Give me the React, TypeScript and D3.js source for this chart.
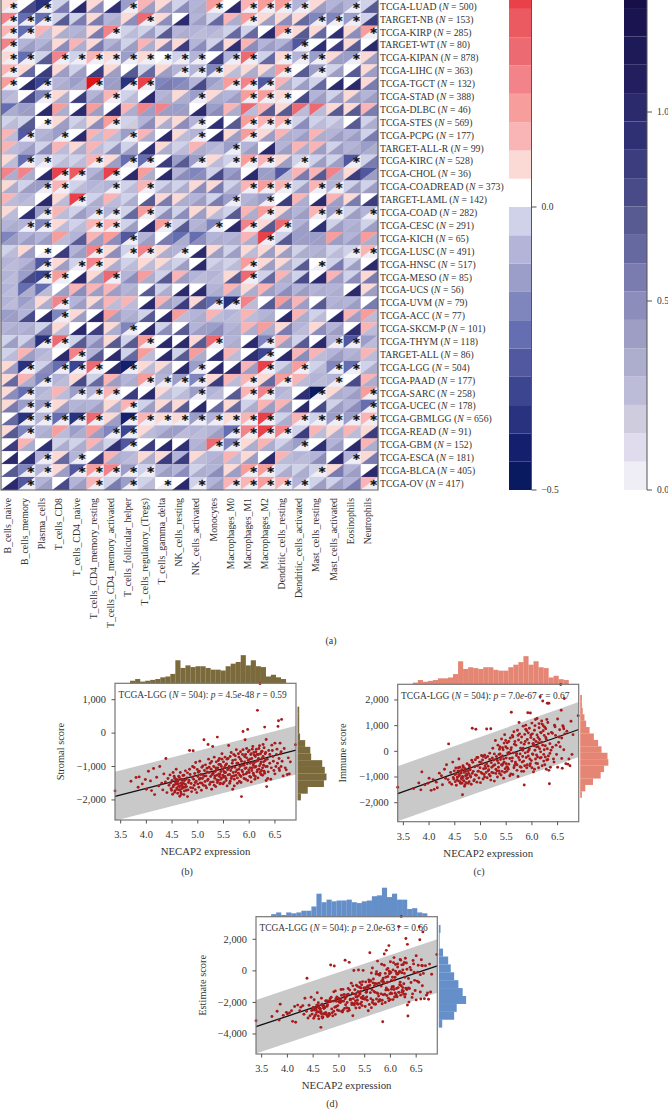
import * as d3 from 'd3';

const FONT = '"Liberation Serif", serif';
const INK = '#333';

const cancers = ['TCGA-LUAD','TARGET-NB','TCGA-KIRP','TARGET-WT','TCGA-KIPAN','TCGA-LIHC','TCGA-TGCT','TCGA-STAD','TCGA-DLBC','TCGA-STES','TCGA-PCPG','TARGET-ALL-R','TCGA-KIRC','TCGA-CHOL','TCGA-COADREAD','TARGET-LAML','TCGA-COAD','TCGA-CESC','TCGA-KICH','TCGA-LUSC','TCGA-HNSC','TCGA-MESO','TCGA-UCS','TCGA-UVM','TCGA-ACC','TCGA-SKCM-P','TCGA-THYM','TARGET-ALL','TCGA-LGG','TCGA-PAAD','TCGA-SARC','TCGA-UCEC','TCGA-GBMLGG','TCGA-READ','TCGA-GBM','TCGA-ESCA','TCGA-BLCA','TCGA-OV'];
const sampleSizes = [500,153,285,80,878,363,132,388,46,569,177,99,528,36,373,142,282,291,65,491,517,85,56,79,77,101,118,86,504,177,258,178,656,91,152,181,405,417];
const immuneCells = ['B_cells_naive','B_cells_memory','Plasma_cells','T_cells_CD8','T_cells_CD4_naive','T_cells_CD4_memory_resting','T_cells_CD4_memory_activated','T_cells_follicular_helper','T_cells_regulatory_(Tregs)','T_cells_gamma_delta','NK_cells_resting','NK_cells_activated','Monocytes','Macrophages_M0','Macrophages_M1','Macrophages_M2','Dendritic_cells_resting','Dendritic_cells_activated','Mast_cells_resting','Mast_cells_activated','Eosinophils','Neutrophils'];

// correlation x100, one row per cancer
const corrRows = [
  [7,2,-37,-2,2,7,2,-12,12,7,-2,-7,17,2,12,17,17,-7,7,-7,-7,-2],
  [22,-22,-22,-2,-2,7,-7,7,27,7,2,-7,-2,12,17,7,7,7,-17,-17,-12,-2],
  [12,-22,12,7,-7,7,22,-2,-2,-2,-7,-7,-7,-2,-2,2,17,7,7,2,7,17],
  [22,-7,-7,7,12,7,-7,-2,12,7,7,-7,-2,7,12,-7,-7,-27,2,2,7,2],
  [7,-22,-2,22,-2,12,7,-12,7,2,-2,-7,2,-7,27,-2,7,-7,-12,7,-12,7],
  [12,7,2,7,-2,2,7,2,-2,7,-7,-7,-17,7,7,7,17,2,-12,-2,2,7],
  [17,2,-32,-7,-12,42,-12,-37,37,-17,-17,-7,-12,17,22,-27,12,-2,-2,2,2,7],
  [-7,2,-17,7,2,-7,12,-2,2,-7,7,-12,7,-7,17,17,7,2,-7,-2,7,-7],
  [-22,-12,2,17,2,17,2,12,22,22,-12,2,-12,12,27,12,7,27,27,7,7,12],
  [-2,-2,2,7,-2,7,17,-2,-7,7,7,-7,2,2,17,12,12,-2,-2,-2,2,-2],
  [12,-27,-7,-12,2,12,12,-12,12,2,7,-7,2,7,17,7,12,-7,12,-7,-7,-2],
  [12,-7,-2,12,7,12,-2,-2,2,7,-2,12,-7,-12,-7,2,-7,12,12,-2,-7,-12],
  [7,-22,-2,-2,-2,12,7,-22,-22,2,-12,-12,7,-2,17,12,7,-2,-2,-2,-27,-2],
  [22,22,2,37,32,-7,37,2,17,2,-7,-17,-2,-12,2,-12,-27,12,12,22,7,-27],
  [7,-2,-12,12,-2,-7,-7,-2,12,-2,-2,7,7,-2,12,17,12,-2,12,-7,-2,-2],
  [12,-7,2,7,37,-2,12,-2,2,7,7,-7,-2,-12,-7,-12,2,12,2,12,7,2],
  [7,2,-12,12,-2,-7,-7,-2,17,-2,-2,7,7,-2,12,17,7,-7,12,-12,-2,-7],
  [-7,-7,-17,7,-2,12,12,-2,2,17,-2,-7,-17,2,22,7,27,-7,2,-2,-7,-2],
  [-17,-7,-7,17,-7,12,17,-27,-7,2,-22,-22,-7,-7,12,37,-2,-12,-12,17,-7,17],
  [-2,7,2,2,-7,22,7,-2,22,7,-7,2,7,-2,7,7,7,-2,-7,-2,-2,12],
  [-7,-7,-27,7,-2,22,7,-2,7,7,-2,2,-2,-2,17,7,7,-2,2,-2,-2,2],
  [-7,-12,-32,17,2,7,27,-7,17,-2,12,-7,-7,7,27,-2,12,-2,2,12,-2,7],
  [-7,-22,-22,2,12,12,12,-7,2,-2,2,2,-7,12,7,12,-7,-7,-7,-7,2,7],
  [-7,-12,7,22,-7,7,12,12,2,12,-7,7,-22,-37,22,2,17,12,2,-7,-7,2],
  [-12,-7,2,-17,7,2,17,-7,-2,2,17,-7,12,-7,12,-7,2,12,-2,2,12,17],
  [-7,-7,-2,7,2,2,7,-17,2,-2,2,-7,-12,-7,12,17,7,-7,7,-7,2,12],
  [-2,-2,-37,27,-2,-7,7,-2,17,2,2,7,27,-7,2,-17,12,-2,2,-7,-27,-12],
  [-2,12,-7,2,22,-7,2,-2,17,2,-2,17,2,12,2,-32,2,12,12,-7,-7,12],
  [7,-37,-2,-22,-32,27,2,-42,7,7,2,-12,2,2,12,37,-2,17,-2,-17,-22,-2],
  [7,12,-17,-7,7,-2,12,-7,17,-7,-12,-17,7,12,12,7,17,12,-7,-7,2,12],
  [7,-22,-7,12,-12,-7,12,2,2,7,-2,-12,-7,2,12,22,-7,2,-47,7,-7,17],
  [7,-12,-12,7,-7,-7,7,12,-2,7,7,2,2,7,-2,12,12,2,2,-2,-7,-22],
  [2,-37,-7,-22,-37,27,7,-42,12,7,7,-12,-7,7,12,37,-2,12,-2,-12,-12,12],
  [7,-17,-7,17,-12,17,-17,-32,7,-7,-12,-7,-7,-22,22,37,22,-2,12,7,12,7],
  [2,12,2,-2,-2,12,-2,-27,2,2,2,-7,27,-17,7,12,-2,-12,2,-7,2,12],
  [2,2,-7,7,-7,2,12,-7,7,7,-7,7,-7,12,7,2,12,-7,-7,2,-7,7],
  [2,-17,-7,7,-27,17,22,-12,-2,-7,-7,-2,-7,7,17,17,-2,-2,-2,7,-7,2],
  [2,-27,-7,2,-7,12,-2,-12,-2,2,2,-2,-7,12,12,17,12,-7,-2,-2,-7,12],
];

// p value x100, same shape. Stars mark the ones under 5
const pRows = [
  [4,79,4,56,101,49,94,4,41,41,49,34,4,101,4,4,4,4,41,41,4,71],
  [4,4,4,71,56,56,34,49,4,49,101,41,64,34,4,41,49,64,4,4,4,86],
  [4,4,26,34,34,56,4,26,41,71,34,26,26,64,64,101,4,71,64,94,49,4],
  [4,41,41,49,34,56,41,41,34,56,86,49,64,94,49,41,49,4,94,86,71,101],
  [4,4,71,4,4,4,4,4,4,4,4,4,86,4,4,64,4,4,4,41,4,41],
  [4,64,86,41,41,86,41,71,64,41,4,4,4,26,34,34,4,71,4,41,71,41],
  [4,101,4,34,34,4,41,4,4,56,49,79,34,4,4,4,34,41,64,101,101,56],
  [26,79,4,34,86,41,4,26,101,34,34,4,34,41,4,4,4,79,41,41,41,41],
  [34,41,101,34,101,41,101,34,41,41,41,101,49,34,26,71,71,26,26,71,71,56],
  [26,71,4,41,26,49,4,19,49,34,49,4,94,71,4,4,4,49,26,26,71,34],
  [26,4,34,4,101,26,26,4,34,101,26,4,101,41,4,41,34,41,34,41,41,56],
  [26,41,49,26,34,26,49,41,94,34,26,34,26,4,41,101,41,34,41,41,34,34],
  [26,4,4,26,26,4,41,4,4,86,71,4,26,4,4,4,41,4,41,41,4,56],
  [34,34,101,4,4,41,4,101,34,101,49,49,79,49,101,41,26,56,71,34,86,41],
  [34,41,4,4,26,26,4,26,4,34,34,49,56,34,4,4,4,41,4,4,41,41],
  [26,26,101,26,4,34,26,34,71,56,34,41,56,4,34,4,86,34,101,41,56,86],
  [26,94,4,26,41,4,4,64,4,49,49,41,26,71,34,4,41,41,4,4,41,4],
  [34,4,4,26,26,4,4,41,101,4,71,34,4,101,4,71,4,41,94,41,34,41],
  [41,41,41,26,71,41,49,4,41,56,34,49,34,34,34,4,71,41,41,41,41,34],
  [26,41,4,86,41,4,49,4,4,34,4,101,41,41,26,41,41,34,34,26,4,4],
  [26,41,4,41,4,4,34,26,26,26,41,101,26,26,4,41,34,71,4,56,41,101],
  [26,79,4,4,101,41,4,49,34,71,41,26,26,71,4,64,34,79,101,41,49,56],
  [26,34,26,41,49,41,41,34,71,34,101,101,34,34,34,41,49,41,34,34,101,41],
  [26,34,34,4,41,41,26,26,101,41,86,71,4,4,26,71,49,41,71,34,41,56],
  [41,79,101,4,41,101,41,34,71,101,26,34,26,26,26,34,101,34,26,101,41,26],
  [34,34,56,26,101,86,34,4,101,49,71,41,49,34,34,34,56,26,49,41,94,26],
  [41,41,4,4,71,49,71,71,4,101,101,71,4,34,101,4,41,71,101,4,4,26],
  [26,41,26,101,4,71,101,64,26,101,71,34,94,26,94,4,101,49,26,41,34,26],
  [41,4,49,4,4,4,101,4,26,34,101,4,101,101,41,4,34,4,26,4,4,34],
  [64,34,4,26,79,64,41,34,4,4,4,4,86,26,4,64,4,26,26,4,79,34],
  [49,4,26,26,4,4,4,86,101,26,26,4,26,71,4,4,26,94,4,34,41,4],
  [56,4,4,41,34,41,34,4,41,56,71,101,64,64,34,41,41,101,79,41,49,4],
  [64,4,4,4,4,4,41,4,4,4,4,4,4,4,4,4,34,4,4,4,4,4],
  [71,4,34,26,34,41,4,4,26,41,26,26,41,4,4,4,4,86,26,34,26,86],
  [86,34,94,34,34,34,94,4,86,101,94,34,4,4,34,34,34,4,94,41,101,34],
  [101,94,4,64,4,86,34,26,34,86,86,26,34,26,41,101,26,26,49,101,4,56],
  [71,4,4,41,4,4,4,4,4,41,49,34,49,41,4,4,34,34,4,56,41,101],
  [101,4,41,79,41,4,56,4,26,4,101,4,41,4,4,4,4,4,41,41,56,4],
];

// colour bar bins, low to high
const corrBinEdges = [-0.45,-0.4,-0.35,-0.3,-0.25,-0.2,-0.15,-0.1,-0.05,0,0.05,0.1,0.15,0.2,0.25,0.3,0.35,0.4];
const corrColors = ['#091a60','#14206d','#28327f','#3c458f','#51589f','#656eb0','#7f85bd','#9c9eca','#b3b4d8','#cfd2e8','#ffffff','#fbd9d5','#f9b5b6','#f79d9c','#f2838a','#ec6a72','#eb5961','#e9404a','#e21416'];
const pBinEdges = [0.075,0.15,0.225,0.3,0.375,0.45,0.525,0.6,0.675,0.75,0.825,0.9,0.975,1.05,1.125,1.2,1.275];
const pColors = ['#efedf6','#e0dbed','#cfccdd','#bcbcd8','#adadce','#9e9ec4','#8c8dbb','#7a7baf','#6569a0','#585a92','#484b88','#3b3d7e','#2f3073','#2a2a6c','#231f5f','#1e1a58','#1a1450','#170f48'];

// scatter points, same samples in all three
const necap2 = [
  3.39,3.70,3.80,3.84,3.86,3.92,3.98,4.00,4.04,4.08,
  4.10,4.14,4.16,4.20,4.24,4.26,4.30,4.32,4.34,4.37,
  4.38,4.40,4.42,4.44,4.46,4.48,4.50,4.51,4.52,4.53,
  4.55,4.56,4.57,4.58,4.59,4.60,4.61,4.62,4.63,4.64,
  4.65,4.65,4.66,4.67,4.68,4.69,4.70,4.71,4.72,4.73,
  4.74,4.75,4.76,4.78,4.79,4.80,4.82,4.84,4.85,4.86,
  4.88,4.90,4.91,4.92,4.93,4.94,4.95,4.96,4.97,4.98,
  4.99,5.00,5.01,5.02,5.03,5.04,5.05,5.06,5.07,5.08,
  5.09,5.10,5.11,5.12,5.13,5.14,5.15,5.16,5.17,5.18,
  5.19,5.20,5.21,5.22,5.23,5.24,5.25,5.26,5.27,5.28,
  5.29,5.30,5.31,5.32,5.33,5.34,5.35,5.36,5.37,5.38,
  5.39,5.40,5.41,5.42,5.43,5.44,5.45,5.46,5.47,5.48,
  5.49,5.50,5.51,5.52,5.53,5.54,5.55,5.56,5.57,5.58,
  5.59,5.60,5.61,5.62,5.63,5.64,5.65,5.66,5.67,5.68,
  5.69,5.70,5.71,5.72,5.73,5.74,5.75,5.76,5.77,5.78,
  5.79,5.80,5.81,5.82,5.83,5.84,5.85,5.85,5.86,5.87,
  5.88,5.89,5.90,5.91,5.92,5.93,5.94,5.95,5.96,5.97,
  5.98,5.99,6.00,6.01,6.02,6.03,6.04,6.05,6.06,6.07,
  6.08,6.09,6.10,6.11,6.12,6.13,6.14,6.15,6.16,6.17,
  6.18,6.19,6.20,6.21,6.22,6.23,6.24,6.25,6.26,6.27,
  6.28,6.29,6.30,6.31,6.32,6.33,6.34,6.35,6.36,6.38,
  6.40,6.42,6.44,6.46,6.48,6.50,6.52,6.54,6.56,6.57,
  6.58,6.59,6.60,6.61,6.62,6.63,6.64,6.66,6.68,6.70,
  6.72,6.74,6.76,6.78,6.80,6.90,
  4.47,4.49,4.52,4.54,4.55,4.57,4.58,4.60,4.61,4.63,
  4.64,4.66,4.67,4.68,4.70,4.71,4.73,4.74,4.76,4.77,
  4.78,4.80,4.81,4.83,4.84,4.87,4.89,4.90,4.93,4.95,
  5.00,5.03,5.05,5.08,5.10,5.12,5.15,5.18,5.20,5.22,
  5.25,5.27,5.30,5.32,5.35,5.37,5.40,5.42,5.44,5.46,
  5.50,5.52,5.54,5.55,5.57,5.59,5.60,5.62,5.63,5.65,
  5.66,5.68,5.70,5.71,5.73,5.74,5.76,5.77,5.79,5.80,
  5.82,5.83,5.84,5.86,5.87,5.88,5.90,5.91,5.92,5.93,
  5.94,5.95,5.96,5.97,5.98,6.00,6.01,6.02,6.03,6.04,
  6.05,6.06,6.07,6.08,6.09,6.10,6.11,6.12,6.13,6.14,
  6.15,6.16,6.17,6.18,6.19,6.20,6.21,6.22,6.23,6.24,
  6.25,6.26,6.27,6.28,6.29,6.30,6.31,6.32,6.33,6.35,
  6.37,6.40,6.43,6.45,6.47,6.50,6.53,6.55,6.58,6.62,
  5.33,5.36,5.38,5.41,5.43,5.45,5.47,5.49,5.51,5.53,
];
const stromal = [
  -1730,-1440,-1330,-1620,-1310,-1520,-1390,-1680,-1140,-1430,
  -1720,-1060,-1840,-1320,-1580,-1000,-1500,-1700,-1220,-1460,
  -760,-1780,-1360,-1560,-1250,-1660,-1420,-1830,-1180,-1560,
  -1350,-1720,-1480,-1080,-1640,-1400,-1800,-1520,-1290,-1700,
  -1890,-1600,-1180,-1760,-1380,-1560,-1650,-1270,-1500,-1840,
  -1420,-1620,-1130,-1710,-1340,-1900,-1480,-520,-1240,-1630,
  -1750,-1000,-530,-1380,-1560,-1210,-1690,-880,-1440,-1780,
  -1090,-1300,-1170,-1620,-1380,-840,-1490,-1240,-1710,-1020,
  -1360,-1240,-1560,-200,-1120,-1450,-950,-1280,-1640,-1050,
  -1420,-340,-780,-1180,-1540,-900,-1300,-1080,-1680,-1240,
  -400,-1460,-1000,-720,-1350,-1150,-1600,-860,-1260,-120,
  -1040,-1420,-1220,-760,-1520,-940,-1150,-1340,-620,-1080,
  -1260,-860,-1480,-1030,-720,-1180,-1360,-920,-1580,-1100,
  -760,-370,-1000,-1240,-1440,-1120,-580,-1300,-900,-1680,
  -1180,-640,-1380,-1020,-800,-1260,-500,-1100,-1500,-900,
  -1200,-720,-1440,-1000,-560,-1300,-1900,-840,-1120,-640,
  50,-1240,-960,-700,-200,-1380,-1040,-460,-1180,110,
  -820,-1100,-520,-1300,-900,-640,-1460,-760,-1040,-400,
  -1200,-580,-880,-1380,-700,-1000,-480,-1160,680,-820,
  -640,-1080,-380,1480,-920,-1240,-560,-760,-1040,-340,
  -860,-1140,180,-620,-1000,-190,-1600,-780,-1360,-520,
  -900,-1380,-360,-700,-1120,-300,-1000,-480,200,370,
  -760,-1120,-300,-620,-1000,410,-840,-1280,-460,-1040,
  -1100,-1240,-740,-1220,-860,-350,
  -1490,-1710,-1610,-1290,-1770,-1530,-1380,-1680,-1450,-1590,
  -1330,-1690,-1500,-1830,-1420,-1610,-1260,-1730,-1540,-1380,
  -1600,-1190,-1700,-1420,-1080,-1510,-1320,-1640,-1030,-1480,
  -1520,-1140,-1350,-1500,-980,-1290,-1580,-1160,-1380,-1020,
  -1470,-850,-1200,-1560,-1040,-1400,-820,-1300,-1500,-1000,
  -1320,-1180,-960,-1420,-780,-1250,-1050,-1500,-700,-1360,
  -1040,-820,-1280,-1580,-680,-1160,-900,-1340,-620,-1080,
  -1260,-780,-1480,-960,-1160,-500,-1360,-860,-1060,-640,
  -1220,-740,-920,-1420,-560,-1180,-780,-1040,-1320,-620,
  -1120,-480,-880,-960,-1260,-660,-1020,-1300,-560,-840,
  -640,-1100,-1340,-760,-460,-980,-1180,-620,-860,-1120,
  -540,-1260,-700,-960,-440,-1200,-820,-580,-1420,-1000,
  -1160,-640,-1040,-520,-840,-1220,-640,-900,-1060,-560,
  -1280,-1100,-1480,-940,-1230,-1380,-780,-1520,-1150,-1300,
];
const immune = [
  -1400,-1450,-1230,-1500,-800,-1300,-1240,-1050,-1520,-1100,
  -1480,-1200,-1420,-850,-950,-1300,-700,-1050,-520,-1100,
  290,-1210,-820,-1280,-420,-1080,-900,-1180,-650,-1320,
  -1020,-760,-1150,-300,-950,-620,-1240,-850,-1080,-720,
  -1690,-980,-560,-1140,-820,-1360,-680,-950,-1220,-880,
  -480,-1040,-760,-1180,-620,-950,-1280,900,-430,-780,
  -1100,-330,860,-930,-1200,-560,-240,-770,-1040,-420,
  -640,-1220,-820,-160,-480,-340,-1080,-680,-900,-150,
  -560,-250,-820,870,-1030,-200,-580,-720,-900,-70,
  -960,880,-440,-620,-260,120,-840,-340,-1160,-520,
  420,-700,-200,-760,-1000,240,-450,-120,-860,170,
  -320,-920,480,-540,-180,60,-1050,-420,650,-680,
  180,-260,-780,330,-640,-100,-500,-40,-950,520,
  60,1520,-380,620,-900,-60,760,-560,380,-420,
  240,-160,-740,820,-980,440,1120,-340,-100,120,
  -620,560,-420,40,980,-780,-1310,280,660,-60,
  1020,-240,800,-520,1500,-180,320,100,-560,1490,
  640,-360,1100,-100,300,-800,460,820,40,1240,
  -460,180,1280,-220,540,-640,920,100,2130,740,
  -240,360,1060,1960,800,-120,620,-520,220,880,
  460,-340,1870,1120,-180,1870,-1260,300,-620,740,
  160,-300,1020,620,-120,1260,350,840,2600,1600,
  520,-660,1000,960,60,2060,680,-480,780,-500,
  -300,-560,1170,-120,650,1390,
  -1020,-760,-880,-1120,-1000,-640,-900,-1180,-760,-1040,
  -1240,-1020,-620,-1160,-1300,-780,-1060,-920,-1240,-860,
  -540,-720,-1000,-350,-860,-1150,-600,-920,-240,-780,
  -420,-860,-200,-1000,-660,-480,-760,-320,-1120,-820,
  -560,-100,-860,-340,-620,80,-220,-780,-480,320,
  -480,120,-700,380,-280,-880,140,-260,560,-640,
  280,-480,-80,-520,620,-240,680,-600,340,-780,
  -200,120,-380,-560,380,860,-640,460,-20,720,
  40,900,-300,-480,540,-640,680,-120,300,220,
  -700,1000,-300,380,-140,640,-480,180,340,1080,
  460,-260,-20,720,1180,-560,240,1000,-380,60,
  940,-220,540,-700,1240,100,-320,680,-740,-80,
  40,700,-420,960,240,-620,560,180,-280,880,
  -360,-760,-100,-520,140,-300,-820,420,-600,-60,
];
const estimate = [
  -3160,-2890,-2560,-3120,-2110,-2820,-2630,-2730,-2660,-2530,
  -3200,-2260,-3260,-2170,-2530,-2300,-2200,-2750,-1740,-2560,
  -470,-2990,-2180,-2840,-1670,-2740,-2320,-3010,-1830,-2880,
  -2370,-2480,-2630,-1380,-2590,-2020,-3040,-2370,-2370,-2420,
  -3580,-2580,-1740,-2900,-2200,-2920,-2330,-2220,-2720,-2720,
  -1900,-2660,-1890,-2890,-1960,-2850,-2760,370,-1670,-2410,
  -2850,-1330,310,-2310,-2760,-1770,-1930,-1650,-2480,-2200,
  -1730,-2520,-1990,-1780,-1860,-1180,-2570,-1920,-2610,-1170,
  -1920,-1490,-2380,670,-2150,-1650,-1530,-2000,-2540,-1120,
  -2380,540,-1220,-1800,-1800,-780,-2140,-1420,-2840,-1760,
  20,-2160,-1200,-1480,-2350,-910,-2050,-980,-2120,50,
  -1360,-2340,-740,-1300,-1700,-880,-2200,-1760,30,-1760,
  -1080,-1120,-2260,-700,-1360,-1280,-1860,-960,-2530,-580,
  -700,1150,-1380,-620,-2340,-1180,180,-1860,-520,-2100,
  -940,-800,-2120,-200,-1780,-820,620,-1440,-1600,-780,
  -1820,-160,-1860,-960,420,-2080,-3220,-560,-460,-700,
  1070,-1480,-160,-1220,1300,-1560,-720,-360,-1740,1600,
  -180,-1460,580,-1400,-600,-1440,-1000,60,-1000,840,
  -1660,-400,400,-1600,-160,-1640,440,-1060,2810,-80,
  -880,-720,680,3440,-120,-1360,60,-1280,-820,540,
  -400,-1480,2050,500,-1180,1680,-2860,-480,-1980,220,
  -740,-1680,660,-80,-1240,960,-650,360,2800,1970,
  -240,-1780,700,340,-940,2470,-160,-1760,320,-1540,
  -1400,-1800,430,-1340,-210,1040,
  -2510,-2470,-2490,-2410,-2770,-2170,-2280,-2860,-2210,-2630,
  -2570,-2710,-2120,-2990,-2720,-2390,-2320,-2650,-2780,-2240,
  -2140,-1910,-2700,-1770,-1940,-2660,-1920,-2560,-1270,-2260,
  -1940,-2000,-1550,-2500,-1640,-1770,-2340,-1480,-2500,-1840,
  -2030,-950,-2060,-1900,-1660,-1320,-1040,-2080,-1980,-680,
  -1800,-1060,-1660,-1040,-1060,-2130,-910,-1760,-140,-2000,
  -760,-1300,-1360,-2100,-60,-1400,-220,-1940,-280,-1860,
  -1460,-660,-1860,-1520,-780,360,-2000,-400,-1080,80,
  -1180,160,-1220,-1900,-20,-1820,-100,-1160,-1020,-400,
  -1820,520,-1180,-580,-1400,-20,-1500,-1120,-220,240,
  -180,-1360,-1360,-40,720,-1540,-940,380,-1240,-1060,
  400,-1480,-160,-1660,800,-1100,-1140,100,-2160,-1080,
  -1120,60,-1460,440,-600,-1840,-80,-720,-1340,320,
  -1640,-1860,-1580,-1460,-1090,-1680,-1600,-1100,-1750,-1360,
];

const histXStart = 3.39;
const histXStep = 0.0978;
const stromalHistTop = [0,0,0,3,5,2,3,4,5,7,8,11,27,18,21,19,20,20,18,16,16,15,20,23,25,33,21,27,20,19,8,10,7,5,0,0];
const immuneHistTop = [0,0,0,2,5,3,4,5,7,7,8,12,27,18,20,19,18,20,20,17,16,16,20,23,26,33,23,27,20,19,8,10,6,5,0,0];
const estimateHistTop = [0,0,0,3,5,2,5,4,5,7,7,12,27,17,20,18,19,19,20,17,16,18,19,24,25,34,23,27,20,20,9,10,5,4,0,0];
const stromalHistSide = [2,2,2,2,3,9,15,16,29,32,34,31,12,4];
const immuneHistSide = [2,2,3,5,7,11,16,21,25,32,33,28,24,15,6,2];
const estimateHistSide = [2,1,1,5,11,14,18,23,28,32,21,18,4];

const xTicks = [3.5,4,4.5,5,5.5,6,6.5];
const stromalTicks = [1000,0,-1000,-2000];
const immuneTicks = [2000,1000,0,-1000,-2000];
const estimateTicks = [2000,0,-2000,-4000];

const HEAT = { left: 1, right: 378, top: 0, bottom: 490 };

function Heatmap() {
  const x = d3.scaleBand<number>().domain(d3.range(immuneCells.length)).range([HEAT.left, HEAT.right]);
  const y = d3.scaleBand<number>().domain(d3.range(cancers.length)).range([HEAT.top, HEAT.bottom]);
  const corrColor = d3.scaleThreshold<number, string>().domain(corrBinEdges).range(corrColors);
  const pColor = d3.scaleThreshold<number, string>().domain(pBinEdges).range(pColors);
  const w = x.bandwidth();
  const h = y.bandwidth();

  return (
    <g>
      {cancers.map((_, r) =>
        immuneCells.map((_, c) => {
          const x0 = x(c)!;
          const y0 = y(r)!;
          const corr = corrRows[r][c] / 100;
          const p = pRows[r][c] / 100;
          return (
            <g key={`${r}-${c}`}>
              <path d={`M${x0},${y0}L${x0 + w},${y0}L${x0},${y0 + h}Z`} fill={corrColor(corr)} stroke={corrColor(corr)} strokeWidth={0.2} />
              <path d={`M${x0 + w},${y0}L${x0 + w},${y0 + h}L${x0},${y0 + h}Z`} fill={pColor(p)} stroke={pColor(p)} strokeWidth={0.2} />
              {p < 0.05 && (
                <text x={x0 + w * 0.74} y={y0 + h * 0.5 + 5.2} textAnchor="middle" fontFamily="DejaVu Sans" fontWeight="bold" fontSize={13} fill="#111" stroke="#111" strokeWidth={0.35}>*</text>
              )}
            </g>
          );
        })
      )}
      <path d={`M${HEAT.left},${HEAT.top}V${HEAT.bottom}H${HEAT.right}V${HEAT.top}`} fill="none" stroke="#666" strokeWidth={1.2} />
      {cancers.map((name, r) => (
        <text key={name} x={380} y={y(r)! + h / 2 + 3.3} fontFamily={FONT} fontSize={9.7} fill={INK}>
          {name} (<tspan fontStyle="italic">N</tspan> = {sampleSizes[r]})
        </text>
      ))}
      {immuneCells.map((name, c) => (
        <text key={name} transform={`translate(${x(c)! + w / 2 + 1.4},498) rotate(-90)`} textAnchor="end" fontFamily={FONT} fontSize={9.8} fill={INK}>
          {name}
        </text>
      ))}
    </g>
  );
}

function ColorBar({ x0, x1, domain, yRange, edges, colors, ticks }: any) {
  const y = d3.scaleLinear().domain(domain).range(yRange);
  const stops = [domain[0], ...edges];
  return (
    <g>
      {colors.map((color: string, i: number) => {
        const lo = stops[i];
        const hi = stops[i + 1] ?? lo + (edges[1] - edges[0]);
        return <rect key={i} x={x0} width={x1 - x0} y={y(hi)} height={y(lo) - y(hi)} fill={color} />;
      })}
      <line x1={x1} x2={x1} y1={0} y2={yRange[0]} stroke="#555" strokeWidth={1} />
      {ticks.map((t: number) => (
        <g key={t}>
          <line x1={x1} x2={x1 + 5} y1={y(t)} y2={y(t)} stroke="#555" />
          <text x={x1 + 10} y={y(t) + 3.2} fontFamily={FONT} fontSize={9.5} fill={INK}>{d3.format('.1f')(t)}</text>
        </g>
      ))}
    </g>
  );
}

function JointPanel({ box, yDomain, yTicks, ys, line, band, label, annotation, color, histTop, histSide, sideStart, sideStep, yLabelGap }: any) {
  const { left, right, top, bottom } = box;
  const x = d3.scaleLinear().domain([3.39, 6.91]).range([left, right]);
  const y = d3.scaleLinear().domain(yDomain).range([bottom, top]);
  const count = d3.scaleLinear().domain([0, 34]).range([0, 29]);

  const bandPath = `M${x(3.39)},${y(line[0] - band)}` +
    `L${x(3.39)},${y(line[0] + band)}L${x(6.91)},${y(line[1] + band)}L${x(6.91)},${y(line[1] - band)}Z`;
  const clipId = `clip-${label.split(' ')[0]}`;

  return (
    <g>
      <defs>
        <clipPath id={clipId}><rect x={left} y={top} width={right - left} height={bottom - top} /></clipPath>
      </defs>
      {histTop.map((n: number, i: number) => (
        <rect key={i} x={x(histXStart + i * histXStep)} width={x(histXStep) - x(0) + 0.1} y={top - count(n)} height={count(n)} fill={color} />
      ))}
      {histSide.map((n: number, i: number) => {
        const y0 = y(sideStart - i * sideStep);
        const y1 = y(sideStart - (i + 1) * sideStep);
        return <rect key={i} x={right + 1.5} width={count(n)} y={y0} height={y1 - y0 + 0.1} fill={color} />;
      })}
      <path d={bandPath} fill="#c9c9c9" clipPath={`url(#${clipId})`} />
      <text x={left + 3.4} y={top + 14.4} fontFamily={FONT} fontSize={9.45} fill={INK}>
        TCGA-LGG (<tspan fontStyle="italic">N</tspan> = 504): <tspan fontStyle="italic">p</tspan> = {annotation[0]}<tspan fontStyle="italic">e</tspan>{annotation[1]} <tspan fontStyle="italic">r</tspan> = {annotation[2]}
      </text>
      <line x1={x(3.39)} x2={x(6.91)} y1={y(line[0])} y2={y(line[1])} stroke="#111" strokeWidth={1.3} />
      {ys.map((v: number, i: number) => (
        <circle key={i} cx={x(necap2[i])} cy={y(v)} r={1.45} fill="#a81a1c" />
      ))}
      <rect x={left} y={top} width={right - left} height={bottom - top} fill="none" stroke="#777" strokeWidth={1.2} />
      {xTicks.map((t) => (
        <g key={t}>
          <line x1={x(t)} x2={x(t)} y1={bottom} y2={bottom + 3.5} stroke="#555" />
          <text x={x(t)} y={bottom + 18} textAnchor="middle" fontFamily={FONT} fontSize={10.4} fill={INK}>{t.toFixed(1)}</text>
        </g>
      ))}
      {yTicks.map((t: number) => (
        <g key={t}>
          <line x1={left - 3.5} x2={left} y1={y(t)} y2={y(t)} stroke="#555" />
          <text x={left - 9} y={y(t) + 3.3} textAnchor="end" fontFamily={FONT} fontSize={10.4} fill={INK}>{d3.format(',')(t)}</text>
        </g>
      ))}
      <text x={(left + right) / 2} y={bottom + 35} textAnchor="middle" fontFamily={FONT} fontSize={10.8} fill={INK}>NECAP2 expression</text>
      <text transform={`translate(${left - yLabelGap},${(top + bottom) / 2}) rotate(-90)`} textAnchor="middle" fontFamily={FONT} fontSize={10.4} fill={INK}>{label}</text>
    </g>
  );
}

export default function App() {
  return (
    <svg width={668} height={1110} style={{ position: 'absolute', left: 0, top: 0, background: '#fff' }}>
      <Heatmap />
      <ColorBar x0={509} x1={531.5} domain={[-0.5, 0]} yRange={[490, 207]} edges={corrBinEdges} colors={corrColors} ticks={[-0.5, 0]} />
      <ColorBar x0={624} x1={647} domain={[0, 1]} yRange={[490, 112]} edges={pBinEdges} colors={pColors} ticks={[0, 0.5, 1]} />
      <text x={331} y={644} textAnchor="middle" fontFamily={FONT} fontSize={10} fill={INK}>(a)</text>

      <JointPanel box={{ left: 115, right: 296, top: 683.3, bottom: 820 }} yDomain={[-2600, 1490]} yTicks={stromalTicks} ys={stromal}
        line={[-1890, -510]} band={730} label="Stromal score" annotation={['4.5', '-48', '0.59']} color="#7a6a3c"
        histTop={stromalHistTop} histSide={stromalHistSide} sideStart={790} sideStep={200} yLabelGap={50.7} />
      <text x={187} y={875} textAnchor="middle" fontFamily={FONT} fontSize={10} fill={INK}>(b)</text>

      <JointPanel box={{ left: 397.7, right: 578.7, top: 684.3, bottom: 821.7 }} yDomain={[-2740, 2610]} yTicks={immuneTicks} ys={immune}
        line={[-1650, 850]} band={1070} label="Immune score" annotation={['7.0', '-67', '0.67']} color="#e58573"
        histTop={immuneHistTop} histSide={immuneHistSide} sideStart={2195} sideStep={250} yLabelGap={52} />
      <text x={479} y={875} textAnchor="middle" fontFamily={FONT} fontSize={10} fill={INK}>(c)</text>

      <JointPanel box={{ left: 256, right: 437.3, top: 916.7, bottom: 1054 }} yDomain={[-5268, 3432]} yTicks={estimateTicks} ys={estimate}
        line={[-3540, 310]} band={1700} label="Estimate score" annotation={['2.0', '-63', '0.66']} color="#648fc9"
        histTop={estimateHistTop} histSide={estimateHistSide} sideStart={2909} sideStep={500} yLabelGap={50} />
      <text x={332} y={1107} textAnchor="middle" fontFamily={FONT} fontSize={10} fill={INK}>(d)</text>
    </svg>
  );
}
